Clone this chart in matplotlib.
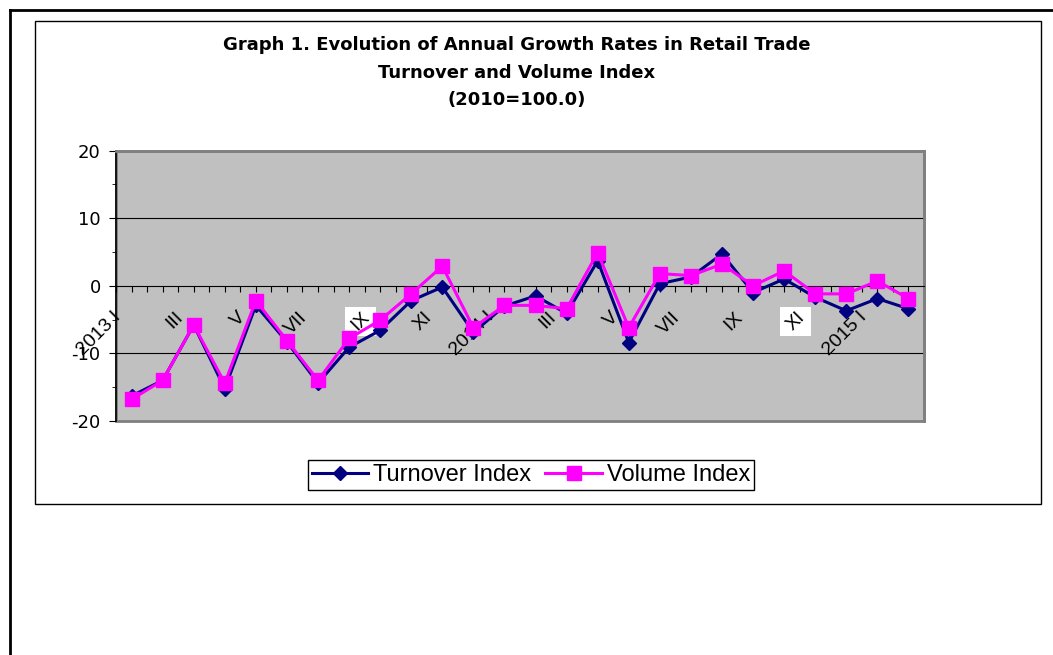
import matplotlib
matplotlib.use('Agg')
import matplotlib.pyplot as plt
import matplotlib.transforms as mtransforms
from matplotlib.patches import Rectangle
from matplotlib.lines import Line2D
import numpy as np

plt.rcParams['font.family'] = ['Liberation Sans', 'DejaVu Sans']
plt.rcParams['axes.unicode_minus'] = False

months = ['2013 I', 'II', 'III', 'IV', 'V', 'VI', 'VII', 'VIII', 'IX', 'X', 'XI', 'XII',
          '2014 I', 'II', 'III', 'IV', 'V', 'VI', 'VII', 'VIII', 'IX', 'X', 'XI', 'XII',
          '2015 I', 'II']
turnover = [-16.3, -14.0, -5.8, -15.2, -2.9, -8.3, -14.4, -9.1, -6.6, -2.2, -0.2, -6.9,
            -3.0, -1.5, -4.1, 3.7, -8.4, 0.3, 1.3, 4.7, -1.0, 1.0, -1.7, -3.7, -1.9, -3.4]
volume = [-16.8, -14.0, -5.8, -14.4, -2.2, -8.1, -14.0, -7.8, -5.1, -1.2, 2.9, -6.2,
          -2.9, -2.9, -3.4, 4.9, -6.2, 1.8, 1.5, 3.2, 0.0, 2.2, -1.2, -1.2, 0.7, -1.9]
title_lines = ['Graph 1. Evolution of Annual Growth Rates in Retail Trade',
               'Turnover and Volume Index', '(2010=100.0)']
boxed = [8, 22]  # labels drawn on a white box in the original

W, H = 1053, 655
fig = plt.figure(figsize=(W / 100, H / 100), dpi=100)

def fx(px):
    return px / W

def fy(py):
    return 1 - py / H

# page frame and chart frame
fig.add_artist(Line2D([fx(10), 1], [fy(10), fy(10)], color='black', lw=2))
fig.add_artist(Line2D([fx(10), fx(10)], [fy(10), 0], color='black', lw=2))
fig.add_artist(Rectangle((fx(35), fy(504)), fx(1041) - fx(35), fy(21) - fy(504),
                         transform=fig.transFigure, fill=False, ec='black', lw=1))

for i, line in enumerate(title_lines):
    fig.text(fx(517), fy(45 + i * 27.5), line, ha='center', va='center',
             fontsize=13, fontweight='bold', family='DejaVu Sans')

ax = fig.add_axes([fx(116), fy(421), fx(924) - fx(116), fy(150.5) - fy(421)])
ax.set_facecolor('#C0C0C0')
x = np.arange(len(months))

ax.plot(x, turnover, color='#000080', lw=2.2, marker='D', ms=7.5,
        label='Turnover Index', zorder=3, clip_on=False)
ax.plot(x, volume, color='#FF00FF', lw=2.2, marker='s', ms=10.5,
        label='Volume Index', zorder=4, clip_on=False)

ax.set_xlim(-0.5, len(months) - 0.5)
ax.set_ylim(-20, 20)

for y in [10, -10]:
    ax.axhline(y, color='black', lw=0.8, zorder=1)

ax.spines['bottom'].set_position(('data', 0))
ax.spines['bottom'].set_color('black')
ax.spines['left'].set_color('black')
ax.spines['left'].set_linewidth(1.2)
for s in ['top', 'right']:
    ax.spines[s].set_color('#808080')
    ax.spines[s].set_linewidth(2)
ax.add_patch(Rectangle((0, 0), 1, 1, transform=ax.transAxes, fill=False,
                       ec='#808080', lw=2, zorder=0.5, clip_on=False))

ax.set_yticks([-20, -10, 0, 10, 20])
ax.set_yticks([-15, -5, 5, 15], minor=True)
ax.set_xticks(np.arange(-0.5, len(months), 0.5))
ax.set_xticklabels([])
ax.tick_params(axis='y', which='major', length=5, direction='out', labelsize=13, pad=6)
ax.tick_params(axis='y', which='minor', length=3, direction='out')
ax.tick_params(axis='x', length=4, direction='out', color='black')
for lab in ax.get_yticklabels():
    lab.set_family('DejaVu Sans')

offset = mtransforms.ScaledTranslation(-0.13, -0.29, fig.dpi_scale_trans)
trans = ax.transData + offset
labels = []
for i in range(0, len(months), 2):
    t = ax.text(i, 0, months[i], transform=trans, rotation=45, rotation_mode='anchor',
                ha='right', va='center', fontsize=14, zorder=2.5)
    labels.append((i, t))

fig.canvas.draw()
for i, t in labels:
    if i in boxed:
        bb = t.get_window_extent()
        ax.add_patch(Rectangle((bb.x0 - 3, bb.y0 - 2), bb.width + 6, bb.height + 4,
                               transform=None, fc='white', ec='none', zorder=2.2,
                               clip_on=False))

fig.legend(loc='center', bbox_to_anchor=(fx(531), fy(475)), ncol=2, fontsize=17,
           frameon=True, fancybox=False, edgecolor='black', framealpha=1,
           handlelength=2.4, handletextpad=0.2, columnspacing=0.6, borderpad=0.15,
           borderaxespad=0)

fig.savefig('out.png', dpi=100)
